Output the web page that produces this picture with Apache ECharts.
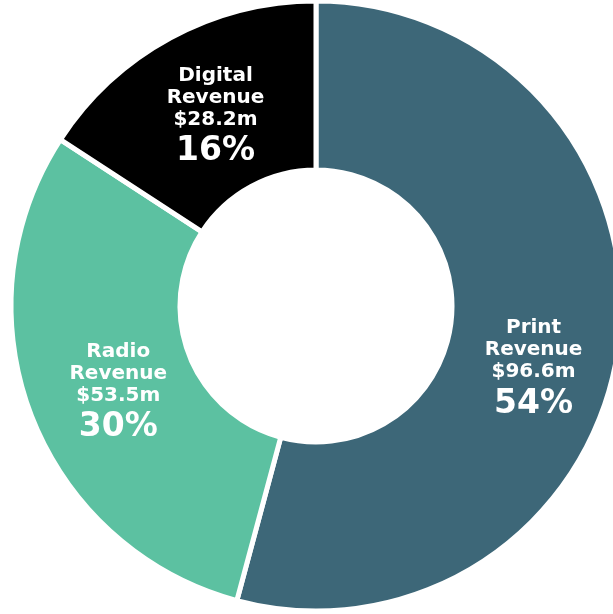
<!DOCTYPE html>
<html><head><meta charset="utf-8">
<script src="https://cdn.jsdelivr.net/npm/echarts@6/dist/echarts.min.js"></script>
<style>html,body{margin:0;padding:0;background:#fff}#c{width:613px;height:614px}</style>
</head><body><div id="c"></div>
<script>
const categories = ['Print', 'Radio', 'Digital'];
const values = [96.6, 53.5, 28.2];
const valueLabels = ['$96.6m', '$53.5m', '$28.2m'];
const percentLabels = ['54%', '30%', '16%'];
const colors = ['#3d6778', '#5cc1a1', '#000000'];
const offsets = [[-4, 36], [11, 9], [6, 9]];

const chart = echarts.init(document.getElementById('c'));
chart.setOption({
  animation: false,
  series: [{
    type: 'pie',
    center: [316, 306],
    radius: [136, 305],
    startAngle: 90,
    clockwise: true,
    itemStyle: { borderColor: '#fff', borderWidth: 5 },
    label: {
      position: 'inside',
      color: '#fff',
      formatter: p => '{a|' + categories[p.dataIndex] + '}\n{a|Revenue}\n{a|' + valueLabels[p.dataIndex] + '}\n{b|' + percentLabels[p.dataIndex] + '}',
      rich: {
        a: { fontFamily: 'DejaVu Sans', fontWeight: 'bold', fontSize: 20, lineHeight: 22, color: '#fff', align: 'center' },
        b: { fontFamily: 'DejaVu Sans', fontWeight: 'bold', fontSize: 33, lineHeight: 42, color: '#fff', align: 'center' }
      }
    },
    labelLine: { show: false },
    data: categories.map((c, i) => ({
      name: c, value: values[i],
      itemStyle: { color: colors[i] },
      label: { offset: offsets[i] }
    }))
  }]
});
</script></body></html>
